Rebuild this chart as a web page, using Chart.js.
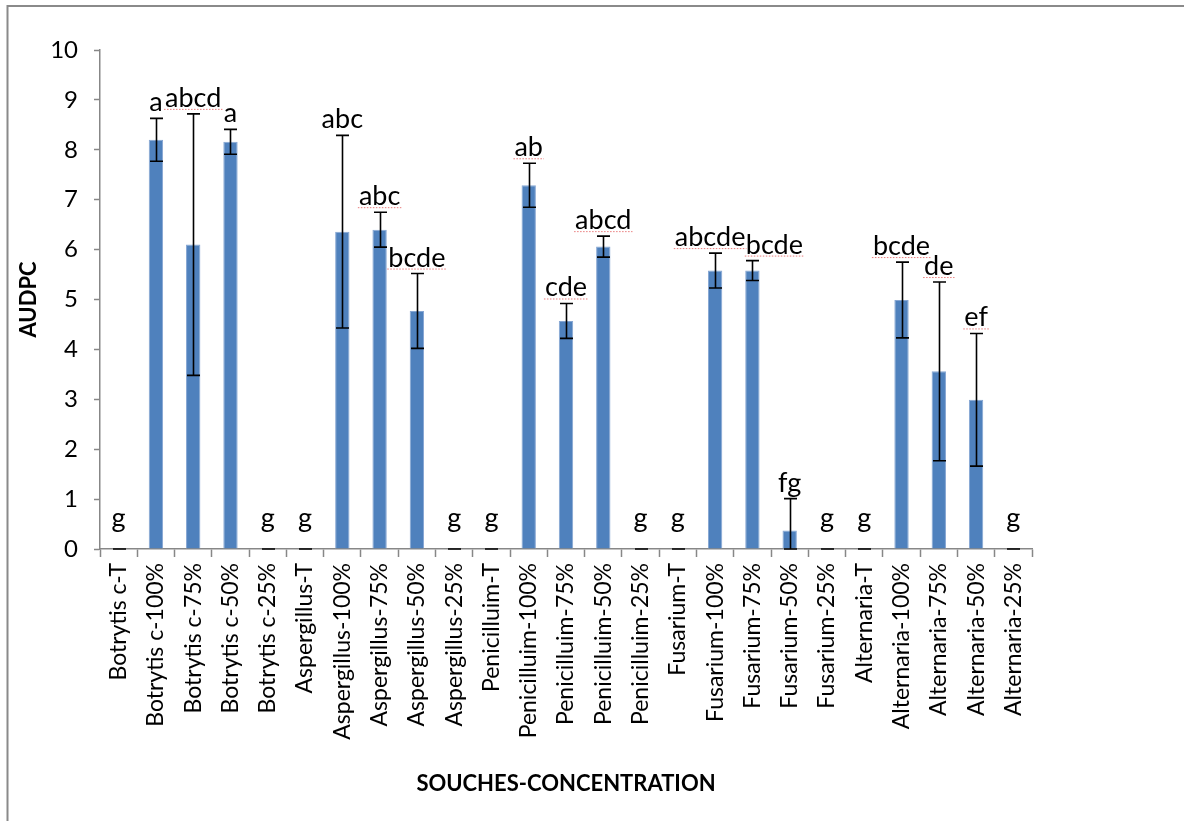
<!DOCTYPE html>
<html>
<head>
<meta charset="utf-8">
<script src="https://cdn.jsdelivr.net/npm/chart.js@4/dist/chart.umd.min.js"></script>
<style>
  html, body { margin: 0; padding: 0; background: #fff; }
  #wrap { width: 1184px; height: 821px; position: relative; }
</style>
</head>
<body>
<div id="wrap"><canvas id="c" width="1184" height="821"></canvas></div>
<script>
// Strains x concentration treatments
const categories = [
  'Botrytis c-T', 'Botrytis c-100%', 'Botrytis c-75%', 'Botrytis c-50%', 'Botrytis c-25%',
  'Aspergillus-T', 'Aspergillus-100%', 'Aspergillus-75%', 'Aspergillus-50%', 'Aspergillus-25%',
  'Penicilluim-T', 'Penicilluim-100%', 'Penicilluim-75%', 'Penicilluim-50%', 'Penicilluim-25%',
  'Fusarium-T', 'Fusarium-100%', 'Fusarium-75%', 'Fusarium-50%', 'Fusarium-25%',
  'Alternaria-T', 'Alternaria-100%', 'Alternaria-75%', 'Alternaria-50%', 'Alternaria-25%'
];

// Mean AUDPC per treatment
const audpc = [
  0, 8.20, 6.10, 8.16, 0,
  0, 6.36, 6.40, 4.77, 0,
  0, 7.29, 4.57, 6.06, 0,
  0, 5.58, 5.58, 0.37, 0,
  0, 4.99, 3.56, 2.99, 0
];

// Standard deviation (symmetric error bars)
const audpcErr = [
  0, 0.43, 2.62, 0.25, 0,
  0, 1.93, 0.35, 0.75, 0,
  0, 0.44, 0.35, 0.21, 0,
  0, 0.35, 0.20, 0.64, 0,
  0, 0.76, 1.79, 1.33, 0
];

// Significance groups
const groups = [
  'g', 'a', 'abcd', 'a', 'g',
  'g', 'abc', 'abc', 'bcde', 'g',
  'g', 'ab', 'cde', 'abcd', 'g',
  'g', 'abcde', 'bcde', 'fg', 'g',
  'g', 'bcde', 'de', 'ef', 'g'
];

const yTicks = [0, 1, 2, 3, 4, 5, 6, 7, 8, 9, 10];

const FONT = 'Lato, "Open Sans", sans-serif';
const AXIS_GREY = '#878787';

// Outer frame of the chart object
const framePlugin = {
  id: 'frame',
  beforeDraw(chart) {
    const ctx = chart.ctx;
    ctx.save();
    ctx.fillStyle = '#ffffff';
    ctx.fillRect(0, 0, chart.width, chart.height);
    ctx.strokeStyle = '#8a8a8a';
    ctx.lineWidth = 2;
    ctx.strokeRect(7.5, 6, chart.width + 20, chart.height + 20);
    ctx.restore();
  }
};

// Error bars with caps
const errorBarPlugin = {
  id: 'errorBars',
  afterDatasetsDraw(chart) {
    const ctx = chart.ctx;
    const x = chart.scales.x, y = chart.scales.y;
    ctx.save();
    ctx.strokeStyle = '#000';
    ctx.lineWidth = 1.6;
    const cap = 6.5;
    audpc.forEach((v, i) => {
      const cx = Math.round(x.getPixelForValue(i)) + 0.5;
      const hi = y.getPixelForValue(v + audpcErr[i]);
      const lo = y.getPixelForValue(Math.max(v - audpcErr[i], 0));
      ctx.beginPath();
      ctx.moveTo(cx, hi); ctx.lineTo(cx, lo);
      ctx.moveTo(cx - cap, hi); ctx.lineTo(cx + cap, hi);
      ctx.moveTo(cx - cap, lo); ctx.lineTo(cx + cap, lo);
      ctx.stroke();
    });
    ctx.restore();
  }
};

// Group letters above each bar
const groupLabelPlugin = {
  id: 'groupLabels',
  afterDatasetsDraw(chart) {
    const ctx = chart.ctx;
    const x = chart.scales.x, y = chart.scales.y;
    const nudge = { 16: -5, 17: 22 };
    const underlined = new Set([2, 7, 8, 11, 12, 13, 16, 17, 21, 22, 23]);
    ctx.save();
    ctx.font = '27px ' + FONT;
    ctx.fillStyle = '#000';
    ctx.textAlign = 'center';
    ctx.textBaseline = 'alphabetic';
    groups.forEach((g, i) => {
      const cx = x.getPixelForValue(i) + (nudge[i] || 0);
      const top = y.getPixelForValue(audpc[i] + audpcErr[i]);
      const base = Math.min(top - 7, y.getPixelForValue(0) - 22);
      ctx.fillText(g, cx, base);
      if (underlined.has(i)) {
        const w = ctx.measureText(g).width;
        ctx.save();
        ctx.strokeStyle = 'rgba(225,80,80,0.75)';
        ctx.lineWidth = 1;
        ctx.setLineDash([1.5, 1.5]);
        ctx.beginPath();
        ctx.moveTo(cx - w / 2 - 1, base + 2.5);
        ctx.lineTo(cx + w / 2 + 1, base + 2.5);
        ctx.stroke();
        ctx.restore();
      }
    });
    ctx.restore();
  }
};

new Chart(document.getElementById('c'), {
  type: 'bar',
  data: {
    labels: categories,
    datasets: [{
      label: 'AUDPC',
      data: audpc,
      backgroundColor: '#4F81BD',
      borderColor: '#86a6d3',
      borderWidth: 1,
      categoryPercentage: 1,
      barPercentage: 0.385
    }]
  },
  options: {
    responsive: false,
    animation: false,
    devicePixelRatio: 1,
    layout: { padding: { top: 50, right: 152, left: 0, bottom: 0 } },
    plugins: {
      legend: { display: false },
      tooltip: { enabled: false }
    },
    scales: {
      x: {
        offset: true,
        grid: {
          offset: true,
          drawOnChartArea: false,
          drawTicks: true,
          tickLength: 8,
          tickColor: AXIS_GREY,
          tickWidth: 1.5
        },
        border: { color: AXIS_GREY, width: 1.5 },
        ticks: {
          autoSkip: false,
          minRotation: 90,
          maxRotation: 90,
          padding: 6,
          color: '#000',
          font: { family: FONT, size: 23 }
        },
        title: {
          display: true,
          text: 'SOUCHES-CONCENTRATION',
          color: '#000',
          font: { family: FONT, size: 22, weight: 'bold' },
          padding: { top: 0, bottom: 24 }
        },
        afterFit(scale) {
          scale.height = 272;
          scale.paddingLeft = 0;
          scale.paddingRight = 0;
        }
      },
      y: {
        min: 0,
        max: 10,
        afterBuildTicks(scale) {
          scale.ticks = yTicks.map(v => ({ value: v }));
        },
        grid: {
          drawOnChartArea: false,
          drawTicks: true,
          tickLength: 6,
          tickColor: AXIS_GREY,
          tickWidth: 1.5
        },
        border: { color: AXIS_GREY, width: 1.5 },
        ticks: {
          padding: 16,
          color: '#000',
          font: { family: FONT, size: 24 }
        },
        title: {
          display: true,
          text: 'AUDPC',
          color: '#000',
          font: { family: FONT, size: 22, weight: 'bold' },
          padding: { top: 16, bottom: 0 }
        },
        afterFit(scale) {
          scale.width = 100;
          scale.paddingTop = 0;
          scale.paddingBottom = 0;
        }
      }
    }
  },
  plugins: [framePlugin, errorBarPlugin, groupLabelPlugin]
});
</script>
</body>
</html>
